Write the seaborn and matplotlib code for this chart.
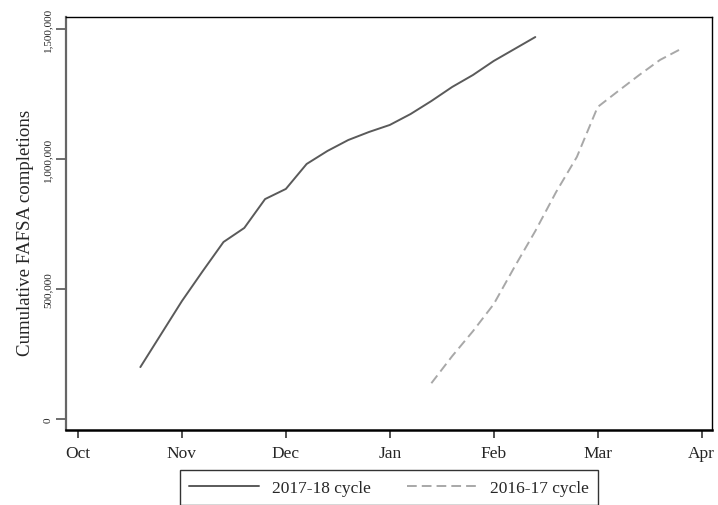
import numpy as np
import pandas as pd
from matplotlib import pyplot as plt
import seaborn as sb

# x positions in months since Oct 1 (weekly readings)
x_1718 = [0.6, 0.8, 1.0, 1.2, 1.4, 1.6, 1.8, 2.0, 2.2, 2.4, 2.6, 2.8, 3.0, 3.2,
          3.4, 3.6, 3.8, 4.0, 4.2, 4.4]
y_1718 = [200000, 327000, 454000, 569000, 681000, 735000, 846000, 885000,
          981000, 1031000, 1073000, 1104000, 1131000, 1173000, 1223000,
          1277000, 1323000, 1377000, 1423000, 1469000]

x_1617 = [3.4, 3.6, 3.8, 4.0, 4.2, 4.4, 4.6, 4.8, 5.0, 5.2, 5.4, 5.6, 5.8]
y_1617 = [138000, 242000, 338000, 442000, 585000, 723000, 873000, 1008000,
          1200000, 1262000, 1323000, 1381000, 1423000]

month_labels = ["Oct", "Nov", "Dec", "Jan", "Feb", "Mar", "Apr"]
y_ticks = [0, 500000, 1000000, 1500000]
cycles = ["2017-18 cycle", "2016-17 cycle"]

df = pd.concat([
    pd.DataFrame({"month": x_1718, "fafsa": y_1718, "cycle": cycles[0]}),
    pd.DataFrame({"month": x_1617, "fafsa": y_1617, "cycle": cycles[1]}),
])

sb.set_style("white")
plt.rcParams["font.family"] = ["Liberation Serif", "DejaVu Serif"]

fig = plt.figure(figsize=(7.18, 5.06), dpi=100)
ax = fig.add_axes([0.092, 0.148, 0.8996, 0.8164])

sb.lineplot(data=df, x="month", y="fafsa", hue="cycle", style="cycle",
            palette={cycles[0]: "#5a5a5a", cycles[1]: "#a8a8a8"},
            dashes={cycles[0]: "", cycles[1]: (5, 2.6)},
            linewidth=1.4, ax=ax, legend=False)

ax.set_xlim(-0.115, 6.1)
ax.set_ylim(-42300, 1546000)
ax.set_xticks(range(len(month_labels)))
ax.set_xticklabels(month_labels, fontsize=12.5)
ax.set_yticks(y_ticks)
ax.set_yticklabels(["{:,}".format(v) for v in y_ticks], fontsize=8,
                   rotation=90, va="center")
ax.set_xlabel("")
ax.set_ylabel("Cumulative FAFSA completions", fontsize=13.6)
ax.yaxis.set_label_coords(-0.05, 0.48)

ax.tick_params(axis="y", direction="out", length=7, width=1.2,
               color="#555555", pad=3, left=True)
ax.tick_params(axis="x", direction="out", length=6, width=1.2,
               color="#333333", pad=5, bottom=True)

for s in ["top", "right"]:
    ax.spines[s].set_color("black")
    ax.spines[s].set_linewidth(1.0)
ax.spines["left"].set_color("#666666")
ax.spines["left"].set_linewidth(1.6)
ax.spines["bottom"].set_color("black")
ax.spines["bottom"].set_linewidth(1.8)

# legend below the plot, boxed
h1, = ax.plot([], [], color="#5a5a5a", lw=1.4)
h2, = ax.plot([], [], color="#a8a8a8", lw=1.4, dashes=(5, 2.6))
leg = ax.legend([h1, h2], cycles, loc="upper center",
                bbox_to_anchor=(0.5, -0.097), ncol=2, frameon=True,
                fancybox=False, fontsize=12.5, handlelength=4.0,
                columnspacing=2.1, borderpad=0.55, handletextpad=0.75,
                borderaxespad=0.0)
leg.get_frame().set_edgecolor("black")
leg.get_frame().set_linewidth(1.0)

plt.savefig("out.png", dpi=100)
plt.close()
